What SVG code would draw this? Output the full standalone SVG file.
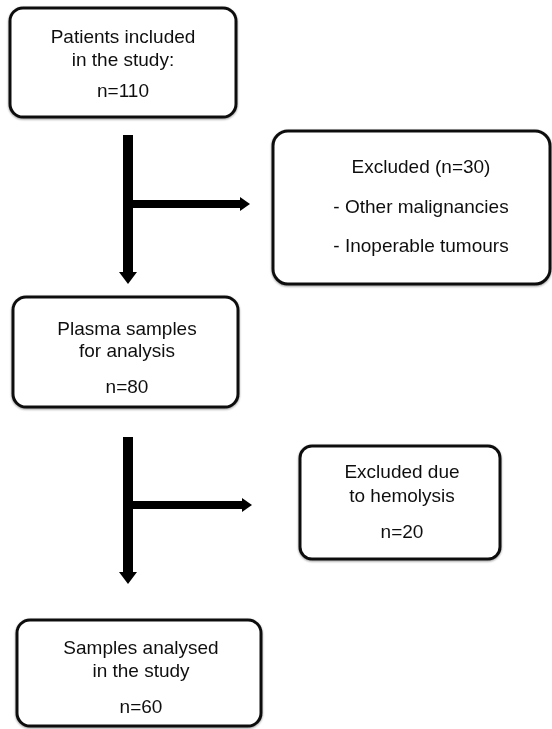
<svg xmlns="http://www.w3.org/2000/svg" width="552" height="729" viewBox="0 0 552 729">
<style>
.box{fill:#fff;stroke:#111;stroke-width:3}
text{font-family:"Liberation Sans",Arial,sans-serif;font-size:19px;fill:#111;text-anchor:middle}
.shaft{stroke:#000;fill:none}
.head{fill:#000}
</style>
<defs>
<filter id="sh" x="-10%" y="-10%" width="120%" height="120%">
<feGaussianBlur in="SourceAlpha" stdDeviation="1"/>
<feOffset dx="0" dy="1" result="b"/>
<feComponentTransfer><feFuncA type="linear" slope="0.4"/></feComponentTransfer>
<feMerge><feMergeNode/><feMergeNode in="SourceGraphic"/></feMerge>
</filter>
</defs>
<rect width="552" height="729" fill="#fff"/>
<g id="connectors">
<line class="shaft" x1="128" y1="135" x2="128" y2="273" stroke-width="10"/>
<polygon class="head" points="119,272 137,272 128,284"/>
<line class="shaft" x1="133" y1="204" x2="241" y2="204" stroke-width="8"/>
<polygon class="head" points="240,197 240,211 250,204"/>
<line class="shaft" x1="128" y1="437" x2="128" y2="573" stroke-width="10"/>
<polygon class="head" points="119,572 137,572 128,584"/>
<line class="shaft" x1="133" y1="505" x2="243" y2="505" stroke-width="8"/>
<polygon class="head" points="242,498 242,512 252,505"/>
</g>
<g id="n1" filter="url(#sh)">
<rect class="box" x="10" y="8" width="226" height="109" rx="13"/>
<text x="123" y="43">Patients included</text>
<text x="123" y="66">in the study:</text>
<text x="123" y="97">n=110</text>
</g>
<g id="n2" filter="url(#sh)">
<rect class="box" x="273" y="131" width="277" height="153" rx="15"/>
<text x="421" y="173">Excluded (n=30)</text>
<text x="421" y="213">- Other malignancies</text>
<text x="421" y="252">- Inoperable tumours</text>
</g>
<g id="n3" filter="url(#sh)">
<rect class="box" x="13" y="297" width="225" height="110" rx="13"/>
<text x="127" y="335">Plasma samples</text>
<text x="127" y="357">for analysis</text>
<text x="127" y="393">n=80</text>
</g>
<g id="n4" filter="url(#sh)">
<rect class="box" x="300" y="446" width="200" height="113" rx="12"/>
<text x="402" y="478">Excluded due</text>
<text x="402" y="502">to hemolysis</text>
<text x="402" y="538">n=20</text>
</g>
<g id="n5" filter="url(#sh)">
<rect class="box" x="17" y="620" width="244" height="106" rx="13"/>
<text x="141" y="654">Samples analysed</text>
<text x="141" y="677">in the study</text>
<text x="141" y="713">n=60</text>
</g>
</svg>
